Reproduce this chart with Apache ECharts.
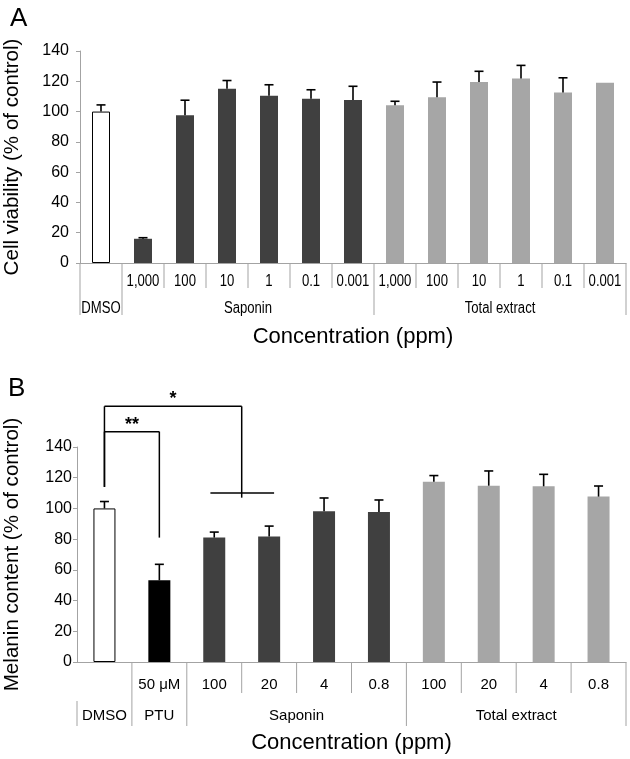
<!DOCTYPE html>
<html><head><meta charset="utf-8">
<script src="https://cdn.jsdelivr.net/npm/echarts@6/dist/echarts.min.js"></script>
<style>html,body{margin:0;padding:0;background:#fff}#c{width:630px;height:759px}</style>
</head><body><div id="c"></div>
<script>
// ---------- Panel A data ----------
const catsA = ['', '1,000', '100', '10', '1', '0.1', '0.001', '1,000', '100', '10', '1', '0.1', '0.001'];
const valuesA = [100, 16, 97.5, 115, 110.4, 108.4, 107.7, 104.2, 109.5, 119.6, 121.9, 112.6, 119];
const errorsA = [4.4, 0.7, 10, 5.5, 7.3, 6, 9, 2.6, 10, 7, 8.6, 9.7, 0];
const groupsA = [['DMSO', 0, 0], ['Saponin', 1, 6], ['Total extract', 7, 12]];
const yTitleA = 'Cell viability (% of control)';

// ---------- Panel B data ----------
const catsB = ['', '50 \u03bcM', '100', '20', '4', '0.8', '100', '20', '4', '0.8'];
const valuesB = [100, 53.2, 81, 81.8, 98.1, 97.7, 117.4, 114.8, 114.4, 107.7];
const errorsB = [4.5, 10.4, 3.6, 6.7, 8.7, 7.8, 4, 9.6, 7.8, 6.9];
const groupsB = [['DMSO', 0, 0], ['PTU', 1, 1], ['Saponin', 2, 5], ['Total extract', 6, 9]];
const yTitleB = 'Melanin content (% of control)';

// significance annotations for panel B: [label, leftIdx, rightIdx, topValue, leftDropTo, rightDropTo]
const bracketsB = [['**', 0, 1, 150, 114, 81], ['*', 0, 2.5, 166.5, 114, 107]];
// horizontal line joining Saponin 100 & 20: [fromIdx, toIdx, value]
const joinLinesB = [[1.93, 3.09, 110]];

const xTitle = 'Concentration (ppm)';
const yMin = 0, yMax = 140, yStep = 20;

// ---------- styles ----------
const FONT = "'Liberation Sans', Arial, Helvetica, sans-serif";
const AXIS_GRAY = '#a3a3a3';
const groupColor = { 'DMSO': '#ffffff', 'PTU': '#000000', 'Saponin': '#404040', 'Total extract': '#a6a6a6' };

function groupOf(groups, i) {
  for (const g of groups) if (i >= g[1] && i <= g[2]) return g[0];
  return null;
}
function barData(values, groups) {
  return values.map((v, i) => {
    const g = groupOf(groups, i);
    return { value: v, itemStyle: { color: groupColor[g], borderColor: g === 'DMSO' ? '#000' : groupColor[g], borderWidth: g === 'DMSO' ? 1 : 0 } };
  });
}
function errSeries(xi, yi, values, errors, capW) {
  return {
    type: 'custom', xAxisIndex: xi, yAxisIndex: yi, z: 5, silent: true, clip: false,
    data: values.map((v, i) => [i, v, errors[i]]),
    renderItem: function (params, api) {
      const e = api.value(2);
      if (!e) return { type: 'group', children: [] };
      const b = api.coord([api.value(0), api.value(1)]);
      const t = api.coord([api.value(0), api.value(1) + e]);
      return { type: 'group', children: [
        { type: 'line', shape: { x1: b[0], y1: b[1], x2: t[0], y2: t[1] }, style: { stroke: '#000', lineWidth: 1.6 } },
        { type: 'line', shape: { x1: t[0] - capW / 2, y1: t[1], x2: t[0] + capW / 2, y2: t[1] }, style: { stroke: '#000', lineWidth: 1.6 } }
      ] };
    }
  };
}
function yAxisCfg(gi, name, gap, margin) {
  return {
    type: 'value', gridIndex: gi, min: yMin, max: yMax, interval: yStep,
    name: name, nameLocation: 'middle', nameGap: gap,
    nameTextStyle: { fontSize: 20.6, color: '#000', fontFamily: FONT },
    axisLine: { show: true, lineStyle: { color: AXIS_GRAY, width: 1 } },
    axisTick: { show: true, length: 4, lineStyle: { color: AXIS_GRAY } },
    axisLabel: { fontSize: 16, color: '#000', fontFamily: FONT, margin: margin },
    splitLine: { show: false }
  };
}
function xAxisCfg(gi, cats, showLabel, size, margin) {
  return {
    type: 'category', gridIndex: gi, data: cats,
    axisLine: { show: true, lineStyle: { color: AXIS_GRAY, width: 1 } },
    axisTick: { show: false },
    axisLabel: { show: showLabel, interval: 0, fontSize: size, color: '#000', fontFamily: FONT, margin: margin }
  };
}

const chart = echarts.init(document.getElementById('c'));
chart.setOption({
  animation: false,
  backgroundColor: '#fff',
  grid: [
    { left: 80, top: 51, width: 546, height: 212, outerBoundsMode: 'none', containLabel: false },
    { left: 77, top: 447, width: 549, height: 215, outerBoundsMode: 'none', containLabel: false }
  ],
  xAxis: [xAxisCfg(0, catsA, false, 16, 10), xAxisCfg(1, catsB, true, 15, 15)],
  yAxis: [yAxisCfg(0, yTitleA, 57, 11), yAxisCfg(1, yTitleB, 54, 5)],
  series: [
    { type: 'bar', xAxisIndex: 0, yAxisIndex: 0, barWidth: 18, data: barData(valuesA, groupsA) },
    errSeries(0, 0, valuesA, errorsA, 9),
    { type: 'bar', xAxisIndex: 1, yAxisIndex: 1, barWidth: 22, data: barData(valuesB, groupsB) },
    errSeries(1, 1, valuesB, errorsB, 9)
  ]
});

function px(xi, i) {
  const a = chart.convertToPixel({ xAxisIndex: xi }, 0);
  const b = chart.convertToPixel({ xAxisIndex: xi }, 1);
  return a + (b - a) * i;
}
function py(yi, v) {
  const a = chart.convertToPixel({ yAxisIndex: yi }, 0);
  const b = chart.convertToPixel({ yAxisIndex: yi }, 100);
  return a + (b - a) * v / 100;
}
function ln(x1, y1, x2, y2, color, w) {
  return { type: 'line', silent: true, shape: { x1: x1, y1: y1, x2: x2, y2: y2 }, style: { stroke: color, lineWidth: w } };
}
function txt(s, x, y, font, align, sx) {
  return { type: 'text', silent: true, x: x, y: y, scaleX: sx || 1,
    style: { text: s, x: 0, y: 0, font: font, fill: '#000', align: align || 'center', verticalAlign: 'middle', textAlign: align || 'center', textVerticalAlign: 'middle' } };
}
function table(xi, yi, cats, groups, cfg) {
  const n = cats.length;
  const y0 = py(yi, 0);
  const els = [];
  const starts = new Set(groups.map(g => g[1]));
  for (let k = 1; k < n; k++) if (!starts.has(k)) els.push(ln(px(xi, k - 0.5), y0, px(xi, k - 0.5), y0 + cfg.row1, AXIS_GRAY, 1));
  if (cfg.row1Labels) cats.forEach((c, i) => { if (c) els.push(txt(c, px(xi, i), y0 + cfg.row1Y, cfg.font, 'center', cfg.sx)); });
  groups.forEach(g => {
    const xs = px(xi, g[1] - 0.5), xe = px(xi, g[2] + 0.5);
    const top = (g[1] === 0 && !cfg.leftFull) ? y0 + cfg.row1 + 8 : y0;
    els.push(ln(xs, top, xs, y0 + cfg.full, AXIS_GRAY, 1));
    els.push(txt(g[0], (xs + xe) / 2, y0 + cfg.row2Y, cfg.font, 'center', cfg.sx));
  });
  const xEnd = px(xi, n - 0.5);
  els.push(ln(xEnd, y0, xEnd, y0 + cfg.full, AXIS_GRAY, 1));
  els.push(txt(xTitle, (px(xi, -0.5) + xEnd) / 2, y0 + cfg.titleY, '22px ' + FONT));
  return els;
}

let g = [];
g = g.concat(table(0, 0, catsA, groupsA, { row1: 25, full: 52, row1Y: 18.5, row2Y: 45.5, titleY: 74, leftFull: true, row1Labels: true, sx: 0.82, font: '16px ' + FONT }));
g = g.concat(table(1, 1, catsB, groupsB, { row1: 31, full: 64, row2Y: 54, titleY: 80.5, leftFull: false, row1Labels: false, sx: 1, font: '15px ' + FONT }));
bracketsB.forEach(b => {
  const xl = px(1, b[1]), xr = px(1, b[2]), yt = py(1, b[3]);
  g.push(ln(xl, yt, xr, yt, '#000', 1.5));
  g.push(ln(xl, yt, xl, py(1, b[4]), '#000', 1.5));
  g.push(ln(xr, yt, xr, py(1, b[5]), '#000', 1.5));
  g.push(txt(b[0], (xl + xr) / 2, yt - 7, 'bold 18px ' + FONT));
});
joinLinesB.forEach(j => g.push(ln(px(1, j[0]), py(1, j[2]), px(1, j[1]), py(1, j[2]), '#000', 1.5)));
g.push(txt('A', 10, 19, '26px ' + FONT, 'left'));
g.push(txt('B', 8, 389, '26px ' + FONT, 'left'));
chart.setOption({ graphic: g });
</script>
</body></html>
